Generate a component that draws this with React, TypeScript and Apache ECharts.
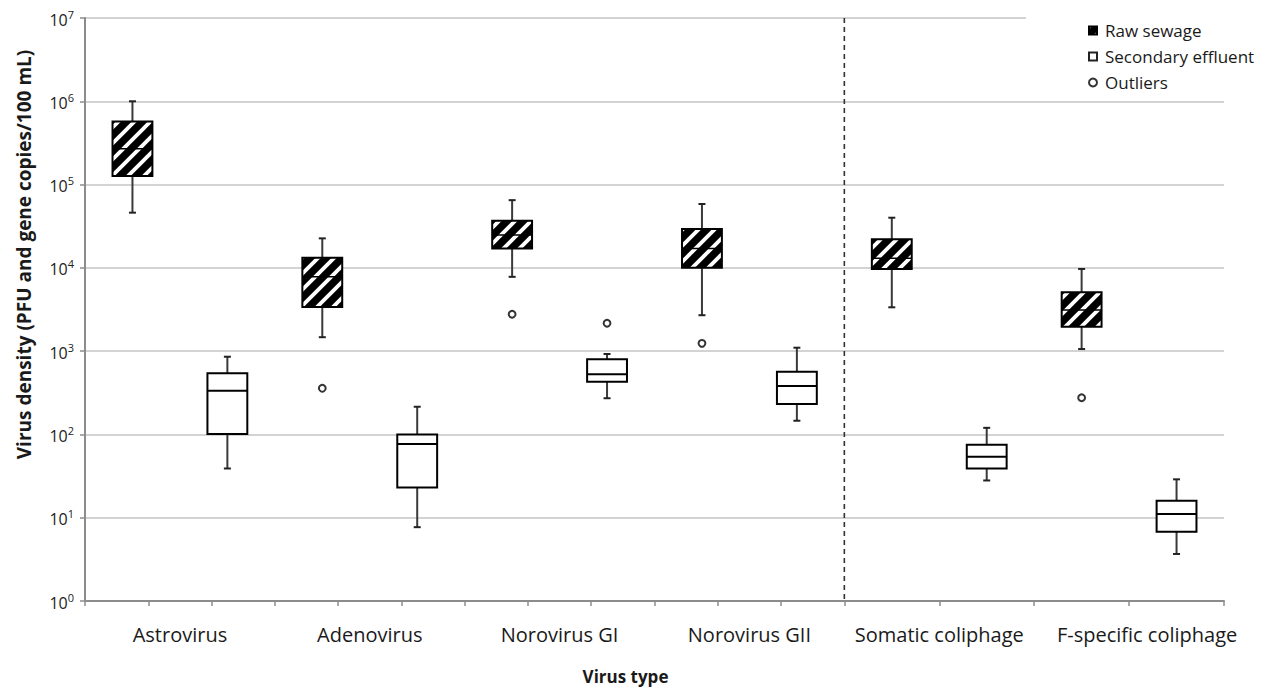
import React, { useEffect, useRef } from 'react';
import * as echarts from 'echarts';

const categories = [
  'Astrovirus',
  'Adenovirus',
  'Norovirus GI',
  'Norovirus GII',
  'Somatic coliphage',
  'F-specific coliphage',
];

// [min, Q1, median, Q3, max]  (PFU or gene copies / 100 mL)
const rawSewage = [
  [4.6e4, 1.27e5, 2.7e5, 5.7e5, 1.0e6],
  [1.47e3, 3.4e3, 7.8e3, 1.32e4, 2.26e4],
  [7.8e3, 1.71e4, 2.48e4, 3.68e4, 6.5e4],
  [2.7e3, 1.0e4, 1.71e4, 2.93e4, 5.84e4],
  [3.36e3, 9.7e3, 1.3e4, 2.2e4, 4.0e4],
  [1.06e3, 1.96e3, 3.12e3, 5.08e3, 9.7e3],
];

const secondaryEffluent = [
  [39, 101, 335, 542, 857],
  [7.7, 23, 77, 100, 215],
  [272, 430, 527, 798, 924],
  [146, 232, 381, 566, 1100],
  [28, 39, 54, 75, 120],
  [3.67, 6.8, 11.1, 16, 28.9],
];

// [category index, group (0 = raw sewage, 1 = secondary effluent), value]
const outliers = [
  [1, 0, 358],
  [2, 0, 2770],
  [2, 1, 2160],
  [3, 0, 1240],
  [5, 0, 276],
];

// dashed separator after this category index
const dividerAfter = 3;

// tick slots (sixths of a category) for the secondary tick axis
const tickSlots = Array.from({ length: categories.length * 6 }, () => '');

const FONT = 'Open Sans';

const hatchSvg =
  "<svg xmlns='http://www.w3.org/2000/svg' width='16' height='16'>" +
  "<rect width='16' height='16' fill='#000'/>" +
  "<path d='M-4,4 L4,-4 M0,16 L16,0 M12,20 L20,12' stroke='#fff' stroke-width='3.8'/>" +
  '</svg>';
const hatchPattern = {
  image: 'data:image/svg+xml;charset=utf-8,' + encodeURIComponent(hatchSvg),
  repeat: 'repeat',
  imageWidth: 16,
  imageHeight: 16,
};

function makeBoxRenderer(group: number, fill: any) {
  return (params: any, api: any) => {
    const cat = api.value(0);
    const band = api.size([1, 0])[0];
    const off = group === 0 ? -band / 4 : band / 4;
    const yMin = api.coord([cat, api.value(1)])[1];
    const yQ1 = api.coord([cat, api.value(2)])[1];
    const pMed = api.coord([cat, api.value(3)]);
    const yQ3 = api.coord([cat, api.value(4)])[1];
    const yMax = api.coord([cat, api.value(5)])[1];
    const cx = pMed[0] + off;
    const w = band * 0.21;
    const cap = 3.5;
    const wStyle = { stroke: '#3a3a3a', lineWidth: 2 };
    const cStyle = { stroke: '#222', lineWidth: 2 };
    return {
      type: 'group',
      children: [
        { type: 'line', shape: { x1: cx, y1: yMax, x2: cx, y2: yQ3 }, style: wStyle },
        { type: 'line', shape: { x1: cx, y1: yQ1, x2: cx, y2: yMin }, style: wStyle },
        { type: 'line', shape: { x1: cx - cap, y1: yMax, x2: cx + cap, y2: yMax }, style: cStyle },
        { type: 'line', shape: { x1: cx - cap, y1: yMin, x2: cx + cap, y2: yMin }, style: cStyle },
        {
          type: 'rect',
          shape: { x: cx - w / 2, y: yQ3, width: w, height: yQ1 - yQ3 },
          style: { fill, stroke: '#000', lineWidth: 2 },
        },
        {
          type: 'line',
          shape: { x1: cx - w / 2, y1: pMed[1], x2: cx + w / 2, y2: pMed[1] },
          style: { stroke: '#000', lineWidth: group === 0 ? 1.5 : 2 },
        },
      ],
    };
  };
}

export default function App() {
  const ref = useRef<HTMLDivElement>(null);

  useEffect(() => {
    if (!ref.current) return;
    const chart = echarts.init(ref.current, null, { renderer: 'svg' });

    const rawData = rawSewage.map((r, i) => [i, ...r]);
    const secData = secondaryEffluent.map((r, i) => [i, ...r]);

    const option: any = {
      animation: false,
      backgroundColor: '#fff',
      textStyle: { fontFamily: FONT },
      grid: { left: 85, right: 42, top: 18, bottom: 92 },
      legend: {
        orient: 'vertical',
        left: 1026,
        top: 13,
        padding: [9, 8, 9, 62],
        backgroundColor: '#fff',
        itemWidth: 8,
        itemHeight: 8,
        itemGap: 9,
        textStyle: { fontFamily: FONT, fontSize: 17, color: '#1a1a1a', lineHeight: 17, padding: [0, 0, 0, 3] },
        data: [
          { name: 'Raw sewage', icon: 'rect' },
          { name: 'Secondary effluent', icon: 'rect' },
          { name: 'Outliers', icon: 'circle' },
        ],
      },
      xAxis: [
        {
          type: 'category',
          data: categories.map((c, i) =>
            i === categories.length - 1 ? { value: c, textStyle: { padding: [0, 0, 0, 36] } } : c
          ),
          boundaryGap: true,
          name: 'Virus type',
          nameLocation: 'middle',
          nameGap: 67,
          nameTextStyle: { fontFamily: FONT, fontSize: 17, fontWeight: 'bold', color: '#1a1a1a', padding: [0, 58, 0, 0] },
          axisLine: { show: true, lineStyle: { color: '#8c8c8c', width: 2 } },
          axisTick: { show: false },
          axisLabel: { fontFamily: FONT, fontSize: 20, color: '#1a1a1a', margin: 23, interval: 0 },
          splitLine: { show: false },
        },
        {
          type: 'category',
          data: tickSlots,
          position: 'bottom',
          boundaryGap: true,
          axisLine: { show: false },
          axisLabel: { show: false },
          axisTick: {
            show: true,
            length: 5,
            lineStyle: { color: '#8c8c8c', width: 1.5 },
            interval: (i: number) => (i < 24 ? i % 2 === 0 : (i - 24) % 3 === 0),
          },
          splitLine: { show: false },
        },
      ],
      yAxis: {
        type: 'log',
        logBase: 10,
        min: 1,
        max: 1e7,
        interval: 1,
        splitNumber: 7,
        name: 'Virus density (PFU and gene copies/100 mL)',
        nameLocation: 'middle',
        nameGap: 52,
        nameTextStyle: { fontFamily: FONT, fontSize: 19, fontWeight: 'bold', color: '#1a1a1a', padding: [0, 0, 0, 110] },
        axisLine: { show: true, lineStyle: { color: '#8c8c8c', width: 2 } },
        axisTick: { show: true, length: 5, lineStyle: { color: '#8c8c8c', width: 1.5 } },
        axisLabel: {
          margin: 11,
          formatter: (v: number) => `{b|10}{s|${Math.round(Math.log10(v))}}`,
          rich: {
            b: { fontFamily: FONT, fontSize: 16, color: '#222', lineHeight: 19, verticalAlign: 'bottom' },
            s: { fontFamily: FONT, fontSize: 11, color: '#222', lineHeight: 11, verticalAlign: 'top' },
          },
        },
        splitLine: { show: true, lineStyle: { color: '#c4c4c4', width: 1.5 } },
      },
      series: [
        {
          name: 'Raw sewage',
          type: 'custom',
          data: rawData,
          encode: { x: 0, y: [1, 2, 3, 4, 5] },
          itemStyle: { color: hatchPattern, borderColor: '#000', borderWidth: 1 },
          renderItem: makeBoxRenderer(0, hatchPattern),
          z: 3,
        },
        {
          name: 'Secondary effluent',
          type: 'custom',
          data: secData,
          encode: { x: 0, y: [1, 2, 3, 4, 5] },
          itemStyle: { color: '#fff', borderColor: '#222', borderWidth: 1.5 },
          renderItem: makeBoxRenderer(1, '#fff'),
          z: 3,
        },
        {
          name: 'Outliers',
          type: 'custom',
          data: outliers,
          encode: { x: 0, y: 2 },
          itemStyle: { color: '#fff', borderColor: '#333', borderWidth: 1.8 },
          renderItem: (params: any, api: any) => {
            const cat = api.value(0);
            const grp = api.value(1);
            const band = api.size([1, 0])[0];
            const p = api.coord([cat, api.value(2)]);
            const cx = p[0] + (grp === 0 ? -band / 4 : band / 4);
            return {
              type: 'circle',
              shape: { cx, cy: p[1], r: 3.4 },
              style: { fill: '#fff', stroke: '#333', lineWidth: 2 },
            };
          },
          z: 3,
        },
        {
          name: 'divider',
          type: 'custom',
          data: [[dividerAfter, 1]],
          encode: { x: 0, y: 1 },
          silent: true,
          renderItem: (params: any, api: any) => {
            const band = api.size([1, 0])[0];
            const x = api.coord([api.value(0), api.value(1)])[0] + band / 2;
            const cs = params.coordSys;
            return {
              type: 'line',
              shape: { x1: x, y1: cs.y, x2: x, y2: cs.y + cs.height },
              style: { stroke: '#333', lineWidth: 1.6, lineDash: [5, 4] },
            };
          },
          z: 2,
        },
      ],
    };

    chart.setOption(option);
    return () => chart.dispose();
  }, []);

  return (
    <div
      ref={ref}
      style={{ position: 'fixed', left: 0, top: 0, width: 1266, height: 693, background: '#fff' }}
    />
  );
}
